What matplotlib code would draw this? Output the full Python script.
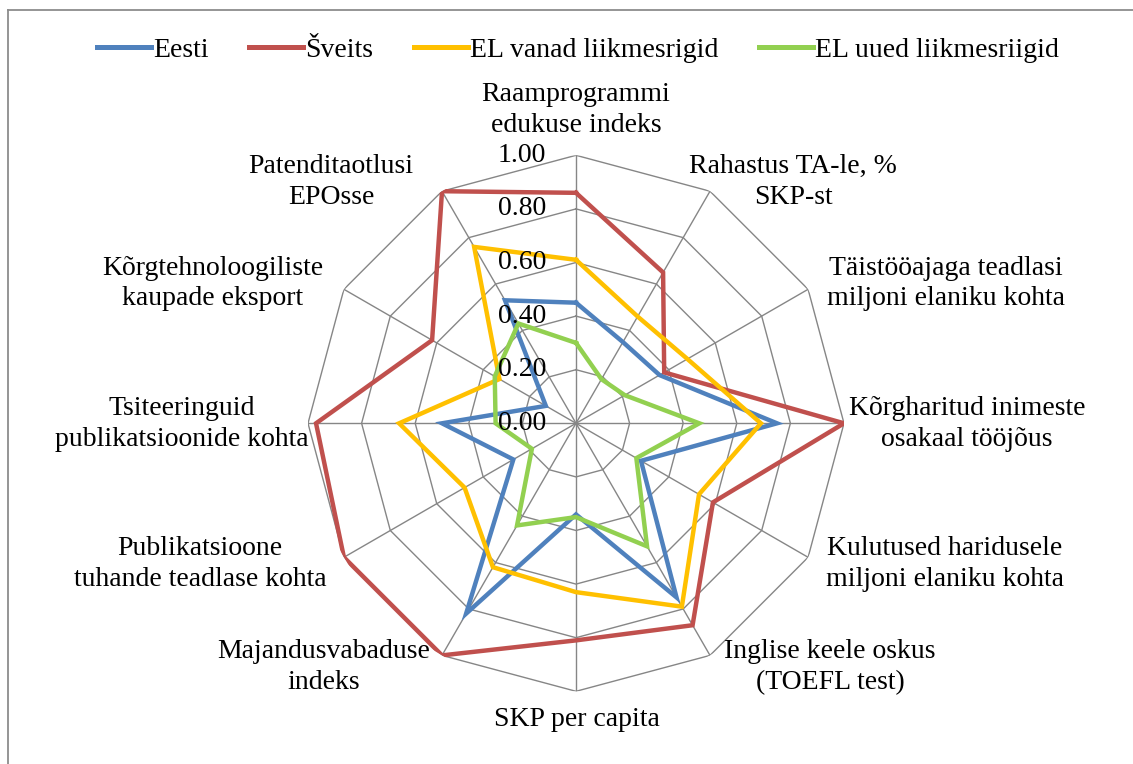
import numpy as np
import matplotlib
matplotlib.use("Agg")
import matplotlib.pyplot as plt
from matplotlib.lines import Line2D
import matplotlib.transforms as mtransforms

plt.rcParams['font.family'] = ['Liberation Serif', 'DejaVu Serif']

categories = [
    "Raamprogrammi\nedukuse indeks",
    "Rahastus TA-le, %\nSKP-st",
    "Täistööajaga teadlasi\nmiljoni elaniku kohta",
    "Kõrgharitud inimeste\nosakaal tööjõus",
    "Kulutused haridusele\nmiljoni elaniku kohta",
    "Inglise keele oskus\n(TOEFL test)",
    "SKP per capita",
    "Majandusvabaduse\nindeks",
    "Publikatsioone\ntuhande teadlase kohta",
    "Tsiteeringuid\npublikatsioonide kohta",
    "Kõrgtehnoloogiliste\nkaupade eksport",
    "Patenditaotlusi\nEPOsse",
]

series_names = ["Eesti", "Šveits", "EL vanad liikmesrigid", "EL uued liikmesriigid"]
eesti = [0.45, 0.35, 0.36, 0.75, 0.28, 0.75, 0.34, 0.82, 0.27, 0.50, 0.13, 0.53]
sveits = [0.86, 0.65, 0.38, 1.00, 0.59, 0.87, 0.81, 1.00, 1.00, 0.97, 0.62, 1.00]
el_vanad = [0.61, 0.46, 0.48, 0.69, 0.53, 0.79, 0.63, 0.62, 0.48, 0.66, 0.33, 0.76]
el_uued = [0.30, 0.19, 0.21, 0.46, 0.26, 0.53, 0.35, 0.44, 0.19, 0.30, 0.35, 0.43]

tick_values = [0.0, 0.2, 0.4, 0.6, 0.8, 1.0]
tick_labels = ["0.00", "0.20", "0.40", "0.60", "0.80", "1.00"]

colors = ["#4F81BD", "#C0504D", "#FFC000", "#92D050"]

W, H = 1133, 764
FS = 20
fig = plt.figure(figsize=(W / 100, H / 100), dpi=100)

cx, cy, R = 576, 423.3, 268
ax = fig.add_axes([(cx - R) / W, (H - cy - R) / H, 2 * R / W, 2 * R / H], projection='polar')
ax.set_theta_zero_location('N')
ax.set_theta_direction(-1)
ax.set_ylim(0, 1)
ax.grid(False)
ax.spines['polar'].set_visible(False)
ax.set_xticks([])
ax.set_yticks([])
ax.patch.set_visible(False)

n = len(categories)
theta = np.linspace(0, 2 * np.pi, n, endpoint=False)
theta_c = np.concatenate([theta, theta[:1]])

grid_col = "#868686"
for v in tick_values[1:]:
    ax.plot(theta_c, [v] * (n + 1), color=grid_col, lw=1.0, zorder=1)
for t in theta:
    ax.plot([t, t], [0, 1], color=grid_col, lw=1.0, zorder=1)

for name, vals, col in zip(series_names, [eesti, sveits, el_vanad, el_uued], colors):
    v = list(vals) + [vals[0]]
    ax.plot(theta_c, v, color=col, lw=3.2, label=name, zorder=3,
            solid_joinstyle='miter')

# radial tick labels
off = mtransforms.ScaledTranslation(-30 / 100, 0, fig.dpi_scale_trans)
for v, lab in zip(tick_values, tick_labels):
    ax.text(0, v, lab, ha='right', va='center', fontsize=FS, zorder=5,
            transform=ax.transData + off)

# category labels (pixel positions of text block centres)
label_pos = [
    (576, 110), (793, 182), (946, 283.5), (967, 424), (945, 564), (830, 667),
    (577, 720), (324, 667), (200, 564), (182, 424), (213, 283.5), (331, 182),
]
for lab, (x, y) in zip(categories, label_pos):
    fig.text(x / W, 1 - y / H, lab, ha='center', va='center', fontsize=FS,
             linespacing=1.3, multialignment='center')

leg = fig.legend(loc='center', bbox_to_anchor=(578 / W, 1 - 50 / H), ncol=4,
                 frameon=False, fontsize=FS, handlelength=1.95, handletextpad=0.08,
                 columnspacing=1.45)
for h in leg.get_lines():
    h.set_linewidth(3.6)

# chart frame
fr = "#8C8C8C"
fig.add_artist(Line2D([8 / W, 8 / W], [0, 1 - 10 / H], color=fr, lw=1.3, transform=fig.transFigure))
fig.add_artist(Line2D([8 / W, 1], [1 - 10 / H, 1 - 10 / H], color=fr, lw=1.3, transform=fig.transFigure))

fig.savefig("out.png", dpi=100)
